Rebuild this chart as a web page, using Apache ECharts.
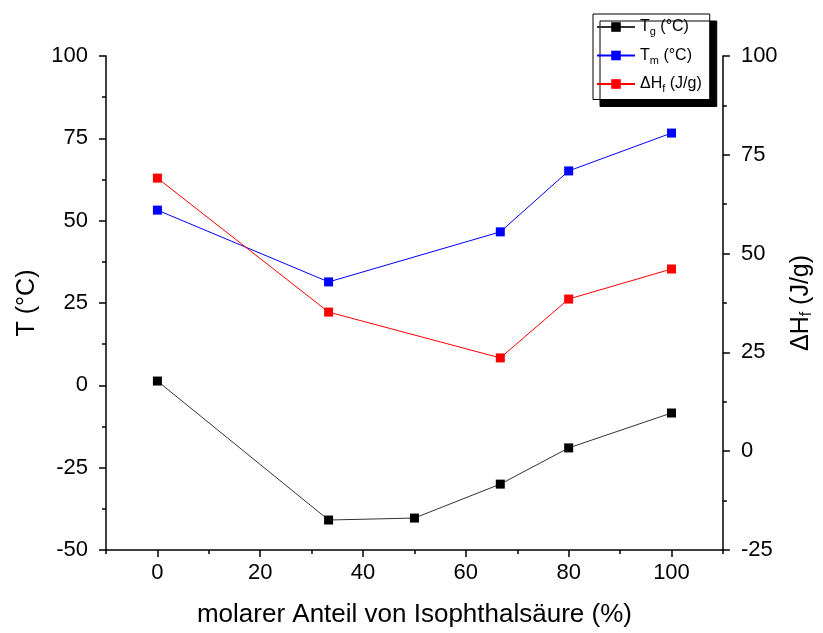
<!DOCTYPE html>
<html>
<head>
<meta charset="utf-8">
<script src="https://cdn.jsdelivr.net/npm/echarts@6/dist/echarts.min.js"></script>
<style>
  html, body { margin: 0; padding: 0; background: #fff; }
  #chart { width: 823px; height: 633px; }
</style>
</head>
<body>
<div id="chart"></div>
<script>
// Isophthalic acid fraction (mol %) for each measured sample
var tgX = [0, 33.3, 50, 66.7, 80, 100];
var tgValues = [1.3, -40.9, -40.3, -30.0, -19.0, -8.4];

var tmX = [0, 33.3, 66.7, 80, 100];
var tmValues = [53.2, 31.4, 46.6, 65.1, 76.6];

var dhX = [0, 33.3, 66.7, 80, 100];
var dhValues = [69.1, 35.2, 23.6, 38.5, 46.1];

var xMajorTicks = [0, 20, 40, 60, 80, 100];
var xMinorTicks = [-10, 10, 30, 50, 70, 90, 110];

function pairs(xs, ys) {
  return xs.map(function (x, i) { return [x, ys[i]]; });
}

var FONT = 'Liberation Sans, Arial, Helvetica, sans-serif';
var axisLine = { show: true, onZero: false, lineStyle: { color: '#000', width: 1.5 } };

var chart = echarts.init(document.getElementById('chart'), null, { renderer: 'canvas' });

chart.setOption({
  animation: false,
  backgroundColor: '#fff',
  textStyle: { fontFamily: FONT },
  grid: { left: 106, right: 93, top: 56, bottom: 83, containLabel: false },
  legend: {
    orient: 'vertical',
    left: 593,
    top: 14,
    padding: [5, 8, 5, 3],
    itemWidth: 38,
    itemHeight: 12,
    itemGap: 10,
    backgroundColor: '#fff',
    borderColor: '#000',
    borderWidth: 1,
    borderRadius: 0,
    shadowColor: '#000',
    shadowBlur: 0,
    shadowOffsetX: 7,
    shadowOffsetY: 7,
    data: ['Tg', 'Tm', 'dH'],
    formatter: function (name) {
      if (name === 'Tg') return '{m|T}{s|g}{m| (°C)}';
      if (name === 'Tm') return '{m|T}{s|m}{m| (°C)}';
      return '{m|ΔH}{s|f}{m| (J/g)}';
    },
    textStyle: {
      fontFamily: FONT,
      color: '#000',
      rich: {
        m: { fontSize: 16, fontFamily: FONT, color: '#000' },
        s: { fontSize: 11, fontFamily: FONT, color: '#000', padding: [10, 0, 0, 0] }
      }
    }
  },
  xAxis: [
    {
      type: 'value',
      min: -10,
      max: 110,
      position: 'bottom',
      name: 'molarer Anteil von Isophthalsäure (%)',
      nameLocation: 'middle',
      nameGap: 52,
      nameTextStyle: { fontSize: 26, color: '#000', fontFamily: FONT },
      axisLine: axisLine,
      axisTick: { show: true, inside: false, length: 7, customValues: xMajorTicks, lineStyle: { color: '#000', width: 1.5 } },
      axisLabel: { show: true, customValues: xMajorTicks, fontSize: 22, color: '#000', margin: 12, fontFamily: FONT },
      splitLine: { show: false }
    },
    {
      type: 'value',
      min: -10,
      max: 110,
      position: 'bottom',
      axisLine: { show: false, onZero: false },
      axisTick: { show: true, inside: false, length: 4, customValues: xMinorTicks, lineStyle: { color: '#000', width: 1.5 } },
      axisLabel: { show: false },
      splitLine: { show: false }
    }
  ],
  yAxis: [
    {
      type: 'value',
      min: -50,
      max: 100,
      interval: 25,
      position: 'left',
      name: 'T (°C)',
      nameLocation: 'middle',
      nameRotate: 90,
      nameGap: 66,
      nameTextStyle: { fontSize: 25, color: '#000', fontFamily: FONT },
      axisLine: axisLine,
      axisTick: { show: true, inside: false, length: 7, lineStyle: { color: '#000', width: 1.5 } },
      minorTick: { show: true, splitNumber: 2, length: 4, lineStyle: { color: '#000', width: 1.5 } },
      axisLabel: { fontSize: 22, color: '#000', margin: 18, fontFamily: FONT },
      splitLine: { show: false }
    },
    {
      type: 'value',
      min: -25,
      max: 100,
      interval: 25,
      position: 'right',
      name: '{m|ΔH}{s|f}{m| (J/g)}',
      nameLocation: 'middle',
      nameRotate: 90,
      nameGap: 64,
      nameTextStyle: {
        fontSize: 25,
        color: '#000',
        fontFamily: FONT,
        rich: {
          m: { fontSize: 25, fontFamily: FONT, color: '#000' },
          s: { fontSize: 16, fontFamily: FONT, color: '#000', padding: [12, 0, 0, 0] }
        }
      },
      axisLine: axisLine,
      axisTick: { show: true, inside: false, length: 7, lineStyle: { color: '#000', width: 1.5 } },
      minorTick: { show: true, splitNumber: 2, length: 4, lineStyle: { color: '#000', width: 1.5 } },
      axisLabel: { fontSize: 22, color: '#000', margin: 18, fontFamily: FONT },
      splitLine: { show: false }
    }
  ],
  series: [
    {
      name: 'Tg',
      type: 'line',
      xAxisIndex: 0,
      yAxisIndex: 0,
      data: pairs(tgX, tgValues),
      symbol: 'rect',
      symbolSize: 9,
      lineStyle: { color: '#333', width: 1 },
      itemStyle: { color: '#000', borderWidth: 0 }
    },
    {
      name: 'Tm',
      type: 'line',
      xAxisIndex: 0,
      yAxisIndex: 0,
      data: pairs(tmX, tmValues),
      symbol: 'rect',
      symbolSize: 9,
      lineStyle: { color: '#0000ff', width: 1 },
      itemStyle: { color: '#0000ff', borderWidth: 0 }
    },
    {
      name: 'dH',
      type: 'line',
      xAxisIndex: 0,
      yAxisIndex: 1,
      data: pairs(dhX, dhValues),
      symbol: 'rect',
      symbolSize: 9,
      lineStyle: { color: '#ff0000', width: 1 },
      itemStyle: { color: '#ff0000', borderWidth: 0 }
    }
  ]
});
</script>
</body>
</html>
